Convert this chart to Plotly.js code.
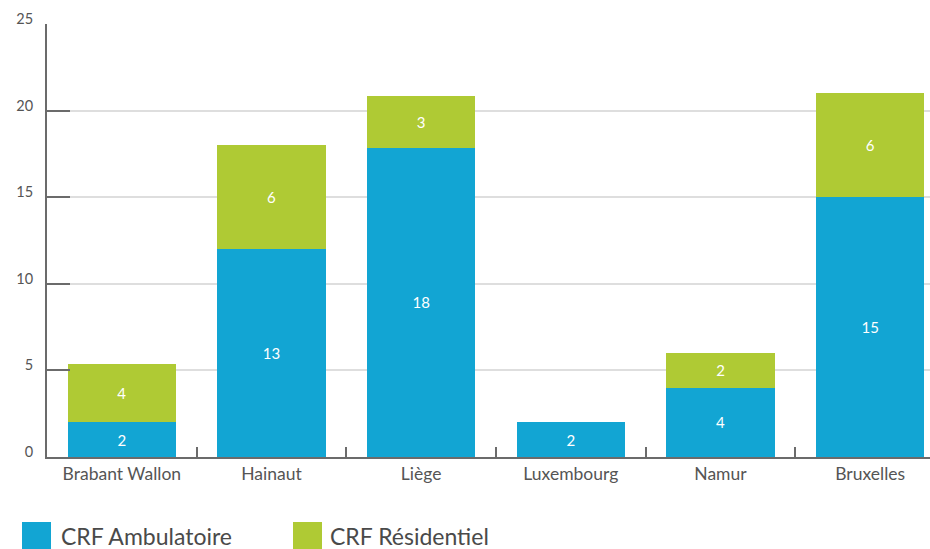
<!DOCTYPE html>
<html>
<head>
<meta charset="utf-8">
<script src="https://cdn.plot.ly/plotly-3.0.1.min.js"></script>
<style>html,body{margin:0;padding:0;background:#fff;}#chart{width:930px;height:549px;}</style>
</head>
<body>
<div id="chart"></div>
<script>
var categories = ["Brabant Wallon", "Hainaut", "Liège", "Luxembourg", "Namur", "Bruxelles"];
var seriesNames = ["CRF Ambulatoire", "CRF Résidentiel"];
// bar heights as drawn in the picture
var ambulatoireValues = [2, 12, 17.85, 2, 4, 15];
var residentielValues = [3.35, 6, 3, 0, 2, 6];
// labels printed on the bars
var ambulatoireLabels = ["2", "13", "18", "2", "4", "15"];
var residentielLabels = ["4", "6", "3", "", "2", "6"];
var yTicks = [0, 5, 10, 15, 20, 25];

var colors = ["#12A5D3", "#AFCA34"];
var W = 930, H = 549, mL = 47, mR = 0, mT = 24, mB = 92;
var pw = W - mL - mR, ph = H - mT - mB;
function px(x) { return (x - mL) / pw; }
function py(y) { return (H - mB - y) / ph; }

var font = "Lato, 'Open Sans', sans-serif";
var traces = [
  {type: "bar", name: seriesNames[0], x: categories, y: ambulatoireValues, text: ambulatoireLabels,
   marker: {color: colors[0]}, width: 0.722},
  {type: "bar", name: seriesNames[1], x: categories, y: residentielValues, text: residentielLabels,
   marker: {color: colors[1]}, width: 0.722}
];
traces.forEach(function (t) {
  t.textposition = "inside";
  t.insidetextanchor = "middle";
  t.textangle = 0;
  t.constraintext = "none";
  t.textfont = {color: "#ffffff", size: 15, family: font};
  t.hoverinfo = "none";
  t.showlegend = false;
});

var shapes = [], annotations = [];
var legendX = [22, 293];
var textOff = [37, 35];
seriesNames.forEach(function (n, i) {
  shapes.push({type: "rect", xref: "paper", yref: "paper",
    x0: px(legendX[i]), x1: px(legendX[i] + 29), y0: py(522), y1: py(551),
    fillcolor: colors[i], line: {width: 0}});
  annotations.push({xref: "paper", yref: "paper", x: px(legendX[i] + textOff[i]), y: py(536),
    xanchor: "left", yanchor: "middle", showarrow: false, text: n,
    font: {family: font, size: 23, color: "#4a4a4a"}});
});

var layout = {
  width: W, height: H,
  margin: {l: mL, r: mR, t: mT, b: mB, pad: 0},
  barmode: "stack",
  paper_bgcolor: "#fff", plot_bgcolor: "#fff",
  showlegend: false,
  xaxis: {
    type: "category", range: [-0.5, 5.40], fixedrange: true,
    showline: true, linecolor: "#6b6b6b", linewidth: 2,
    ticks: "inside", tickson: "boundaries", ticklen: 10, tickcolor: "#6b6b6b", tickwidth: 2,
    showgrid: false, zeroline: false,
    tickfont: {family: font, size: 17.5, color: "#555"}
  },
  yaxis: {
    range: [0, 25], tickvals: yTicks, ticktext: yTicks.map(String),
    showline: true, linecolor: "#6b6b6b", linewidth: 2,
    ticks: "inside", ticklen: 23, tickcolor: "#6b6b6b", tickwidth: 2,
    ticklabelstandoff: 9, ticklabelshift: -5,
    showgrid: true, gridcolor: "#dedede", gridwidth: 2, zeroline: false,
    tickfont: {family: font, size: 14.5, color: "#555"}
  },
  shapes: shapes,
  annotations: annotations,
  font: {family: font}
};

Plotly.newPlot("chart", traces, layout, {displayModeBar: false, staticPlot: true});
</script>
</body>
</html>
